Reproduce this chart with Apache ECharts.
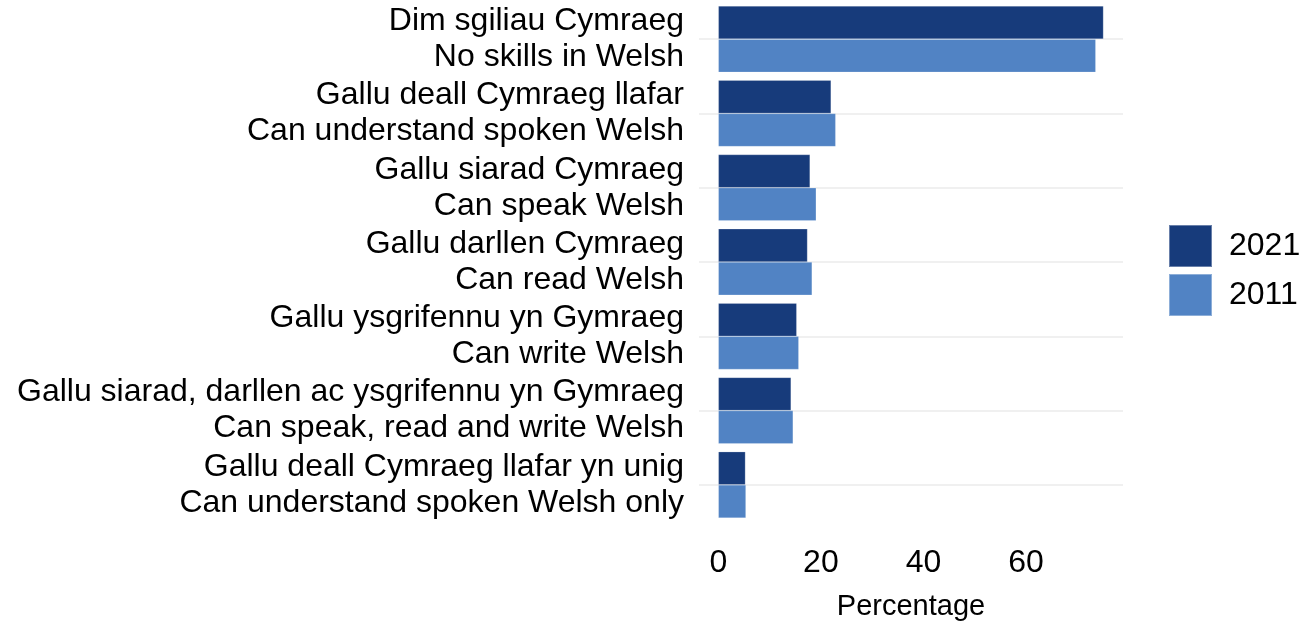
<!DOCTYPE html>
<html>
<head>
<meta charset="utf-8">
<script src="https://cdn.jsdelivr.net/npm/echarts@6/dist/echarts.min.js"></script>
<style>
    html, body { margin: 0; padding: 0; background: #fff; }
    #grafico { width: 1299px; height: 640px; }
</style>
</head>
<body>
<div id="grafico"></div>
<script>
'use strict';

// categorias (galês / inglês)
var categorias = [
    'Dim sgiliau Cymraeg\nNo skills in Welsh',
    'Gallu deall Cymraeg llafar\nCan understand spoken Welsh',
    'Gallu siarad Cymraeg\nCan speak Welsh',
    'Gallu darllen Cymraeg\nCan read Welsh',
    'Gallu ysgrifennu yn Gymraeg\nCan write Welsh',
    'Gallu siarad, darllen ac ysgrifennu yn Gymraeg\nCan speak, read and write Welsh',
    'Gallu deall Cymraeg llafar yn unig\nCan understand spoken Welsh only'
];

// valores
var anos = ['2021', '2011'];
var valores2021 = [75.1, 22.0, 17.9, 17.4, 15.3, 14.2, 5.3];
var valores2011 = [73.6, 22.9, 19.1, 18.3, 15.7, 14.6, 5.4];

// limites do eixo x
var eixoXMin = -3.76;
var eixoXMax = 78.9;

var fonte = '"Liberation Sans", Arial, sans-serif';
var cores = ['#173b7b', '#5183c4'];

var myChart = echarts.init(document.getElementById('grafico'));
var option = {
    animation: false,
    textStyle: { fontFamily: fonte },
    color: cores,
    grid: {
        left: 699,
        right: 176,
        top: 2,
        height: 520
    },
    legend: {
        orient: 'vertical',
        left: 1168,
        top: 224,
        padding: 0,
        itemWidth: 43,
        itemHeight: 42,
        itemGap: 5,
        icon: 'rect',
        data: anos,
        textStyle: {
            fontFamily: fonte,
            fontSize: 32,
            color: '#000',
            padding: [0, 0, 0, 12]
        }
    },
    xAxis: {
        type: 'value',
        min: eixoXMin,
        max: eixoXMax,
        name: 'Percentage',
        nameLocation: 'middle',
        nameGap: 70,
        nameTextStyle: { fontFamily: fonte, fontSize: 29, color: '#000' },
        axisLine: { show: false },
        axisTick: { show: false },
        splitLine: { show: false },
        axisLabel: {
            showMinLabel: false,
            showMaxLabel: false,
            fontFamily: fonte,
            fontSize: 32,
            color: '#000',
            margin: 25
        }
    },
    yAxis: {
        type: 'category',
        inverse: true,
        data: categorias,
        axisLine: { show: false },
        axisTick: { show: false },
        splitLine: {
            show: true,
            alignWithLabel: true,
            lineStyle: { color: '#ebebeb', width: 1.5 }
        },
        axisLabel: {
            fontFamily: fonte,
            fontSize: 32,
            lineHeight: 36,
            color: '#000',
            margin: 15,
            align: 'right'
        }
    },
    series: [
        {
            name: anos[0],
            type: 'bar',
            data: valores2021,
            barGap: '0%',
            barCategoryGap: '10.6%',
            itemStyle: { borderColor: 'rgba(255,255,255,0.35)', borderWidth: 0.6 }
        },
        {
            name: anos[1],
            type: 'bar',
            data: valores2011,
            barGap: '0%',
            barCategoryGap: '10.6%',
            itemStyle: { borderColor: 'rgba(255,255,255,0.35)', borderWidth: 0.6 }
        }
    ]
};

myChart.setOption(option);
</script>
</body>
</html>
